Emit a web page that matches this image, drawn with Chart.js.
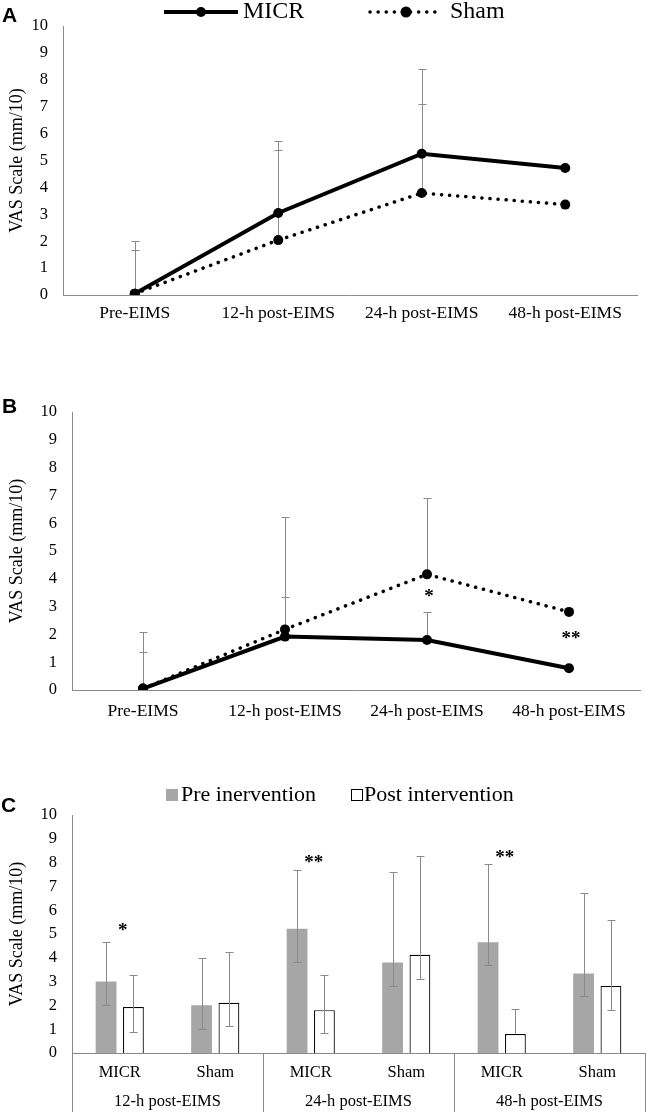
<!DOCTYPE html>
<html>
<head>
<meta charset="utf-8">
<script src="https://cdn.jsdelivr.net/npm/chart.js@4.4.1/dist/chart.umd.min.js"></script>
<style>
  body { margin: 0; background: #fff; width: 646px; height: 1115px; position: relative; overflow: hidden; }
  .panel { position: absolute; left: 0; }
  .tag { position: absolute; font: bold 21px 'Liberation Sans', Arial, sans-serif; line-height: 1; color: #000; }
</style>
</head>
<body>
<div class="panel" style="top:0px"><canvas id="chartA" width="646" height="335"></canvas></div>
<div class="panel" style="top:360px"><canvas id="chartB" width="646" height="370"></canvas></div>
<div class="panel" style="top:740px"><canvas id="chartC" width="646" height="375"></canvas></div>
<div class="tag" style="left:2px;top:4px">A</div>
<div class="tag" style="left:2px;top:395px">B</div>
<div class="tag" style="left:1px;top:794px">C</div>
<script>
// time points (panels A and B)
const timeLabels = ['Pre-EIMS', '12-h post-EIMS', '24-h post-EIMS', '48-h post-EIMS'];
const yTitle = 'VAS Scale (mm/10)';

// panel A
const micrA = [0.05, 3.05, 5.25, 4.72];
const shamA = [0.05, 2.04, 3.79, 3.36];
const micrAHigh = [2.0, 5.74, 8.42, null];
const shamAHigh = [1.67, 5.4, 7.1, null];

// panel B
const micrB = [0.05, 1.92, 1.8, 0.78];
const shamB = [0.05, 2.18, 4.16, 2.81];
const micrBHigh = [1.38, 3.33, 2.81, null];
const shamBHigh = [2.07, 6.23, 6.91, null];
const starTextB = ['*', '**'];
const starIndexB = [2, 3];
const starValueB = [3.49, 1.98];

// panel C
const groupLabels = ['12-h post-EIMS', '24-h post-EIMS', '48-h post-EIMS'];
const subLabels = ['MICR', 'Sham', 'MICR', 'Sham', 'MICR', 'Sham'];
const preC = [3.0, 2.01, 5.22, 3.8, 4.65, 3.34];
const postC = [1.93, 2.11, 1.8, 4.13, 0.8, 2.82];
const preCHigh = [4.65, 4.01, 7.68, 7.6, 7.93, 6.72];
const preCLow = [2.01, 1.01, 3.83, 2.82, 3.7, 2.39];
const postCHigh = [3.28, 4.23, 3.28, 8.27, 1.86, 5.6];
const postCLow = [0.89, 1.13, 0.82, 3.13, null, 1.8];
const starTextC = ['*', '**', '**'];
const starIndexC = [0, 2, 4];
const starValueC = [5.28, 8.15, 8.37];

const AXIS = '#8a8a8a';
const SERIF = "'Liberation Serif', 'Times New Roman', serif";
Chart.defaults.font.family = SERIF;
Chart.defaults.color = '#000';

function paintErrors(chart, o) {
  const ctx = chart.ctx, y = chart.scales.y, cap = 4;
  ctx.save();
  ctx.strokeStyle = o.color || AXIS;
  ctx.lineWidth = 1;
  chart.data.datasets.forEach((ds, d) => {
    const meta = chart.getDatasetMeta(d);
    meta.data.forEach((el, i) => {
      const x = Math.round(el.x) + 0.5;
      [ds.errHigh, ds.errLow].forEach(arr => {
        if (!arr || arr[i] == null) return;
        const end = Math.round(y.getPixelForValue(arr[i])) + 0.5;
        ctx.beginPath();
        ctx.moveTo(x, el.y);
        ctx.lineTo(x, end);
        ctx.moveTo(x - cap, end);
        ctx.lineTo(x + cap, end);
        ctx.stroke();
      });
    });
  });
  ctx.restore();
}

const errorBars = {
  id: 'errorBars',
  beforeDatasetsDraw(chart, args, o) { if (!o.front) paintErrors(chart, o); },
  afterDatasetsDraw(chart, args, o) { if (o.front) paintErrors(chart, o); }
};

const stars = {
  id: 'stars',
  afterDatasetsDraw(chart, args, o) {
    if (!o.text) return;
    const ctx = chart.ctx, x = chart.scales.x, y = chart.scales.y;
    ctx.save();
    ctx.font = 'bold ' + o.size + 'px ' + SERIF;
    ctx.textAlign = 'center';
    ctx.textBaseline = 'alphabetic';
    ctx.fillStyle = '#000';
    o.text.forEach((t, k) => {
      ctx.fillText(t, x.getPixelForValue(o.index[k]) + (o.dx || 0), y.getPixelForValue(o.value[k]) + o.size * 0.47);
    });
    ctx.restore();
  }
};

// legend drawn above the plot, styled like the original figure
const drawnLegend = {
  id: 'drawnLegend',
  afterDraw(chart, args, o) {
    if (!o.items) return;
    const ctx = chart.ctx;
    ctx.save();
    o.items.forEach((it, k) => {
      const ds = chart.data.datasets[k];
      if (it.kind === 'line') {
        ctx.strokeStyle = ds.borderColor;
        ctx.lineWidth = ds.borderWidth;
        ctx.lineCap = ds.borderCapStyle || 'butt';
        ctx.setLineDash(ds.borderDash || []);
        ctx.beginPath();
        ctx.moveTo(it.x, o.y);
        ctx.lineTo(it.x + it.w, o.y);
        ctx.stroke();
        ctx.setLineDash([]);
        ctx.fillStyle = ds.pointBackgroundColor;
        ctx.beginPath();
        ctx.arc(it.x + it.w / 2, o.y, it.r, 0, Math.PI * 2);
        ctx.fill();
      } else {
        ctx.fillStyle = ds.backgroundColor;
        ctx.fillRect(it.x, o.y - it.w / 2, it.w, it.w);
        if (ds.borderWidth) {
          ctx.strokeStyle = ds.borderColor;
          ctx.lineWidth = 1;
          ctx.strokeRect(it.x + 0.5, o.y - it.w / 2 + 0.5, it.w - 1, it.w - 1);
        }
      }
      ctx.fillStyle = '#000';
      ctx.font = o.size + 'px ' + SERIF;
      ctx.textBaseline = 'middle';
      ctx.fillText(ds.label, it.textX, o.y);
    });
    ctx.restore();
  }
};

const groupDividers = {
  id: 'groupDividers',
  afterDraw(chart, args, o) {
    if (!o.show) return;
    const x = chart.scales.x, ctx = chart.ctx;
    const per = subLabels.length / groupLabels.length;
    ctx.save();
    ctx.strokeStyle = AXIS;
    ctx.lineWidth = 1;
    for (let g = 0; g <= groupLabels.length; g++) {
      const px = Math.round(x.getPixelForValue(g * per - 0.5)) + 0.5;
      ctx.beginPath();
      ctx.moveTo(px, chart.chartArea.bottom);
      ctx.lineTo(px, chart.height - 3);
      ctx.stroke();
    }
    ctx.restore();
  }
};

function yAxis(width) {
  return {
    min: 0, max: 10,
    ticks: { stepSize: 1, padding: 15, font: { size: 16.5 } },
    grid: { display: false, drawTicks: false },
    border: { display: true, color: AXIS, width: 1 },
    title: { display: true, text: yTitle, font: { size: 18 }, padding: { top: 6, bottom: 0 } },
    afterFit: s => { s.width = width; }
  };
}

function xAxis(height, pad, size) {
  return {
    type: 'category', offset: true,
    grid: { display: false, drawTicks: false },
    border: { display: true, color: AXIS, width: 1 },
    ticks: { padding: pad, font: { size: size }, maxRotation: 0, autoSkip: false },
    afterFit: s => { s.height = height; }
  };
}

function lineSets(micr, micrHigh, sham, shamHigh) {
  return [
    { label: 'MICR', data: micr, errHigh: micrHigh, borderColor: '#000', borderWidth: 4,
      pointRadius: 5, pointBackgroundColor: '#000', pointBorderWidth: 0, tension: 0 },
    { label: 'Sham', data: sham, errHigh: shamHigh, borderColor: '#000', borderWidth: 3.5,
      borderDash: [0.1, 8], borderCapStyle: 'round',
      pointRadius: 5, pointBackgroundColor: '#000', pointBorderWidth: 0, tension: 0 }
  ];
}

new Chart(document.getElementById('chartA'), {
  type: 'line',
  data: { labels: timeLabels, datasets: lineSets(micrA, micrAHigh, shamA, shamAHigh) },
  options: {
    responsive: false, devicePixelRatio: 1, animation: false,
    layout: { padding: { top: 26, right: 9, left: 0, bottom: 0 } },
    scales: { x: xAxis(40, 8, 17.5), y: yAxis(63) },
    plugins: {
      legend: { display: false }, tooltip: { enabled: false },
      errorBars: { front: false },
      drawnLegend: { y: 12, size: 24, items: [
        { kind: 'line', x: 164, w: 74, r: 5, textX: 243 },
        { kind: 'line', x: 370, w: 72, r: 5.5, textX: 450 }
      ] }
    }
  },
  plugins: [errorBars, drawnLegend]
});

new Chart(document.getElementById('chartB'), {
  type: 'line',
  data: { labels: timeLabels, datasets: lineSets(micrB, micrBHigh, shamB, shamBHigh) },
  options: {
    responsive: false, devicePixelRatio: 1, animation: false,
    layout: { padding: { top: 52, right: 6, left: 0, bottom: 0 } },
    scales: { x: xAxis(40, 11, 17.5), y: yAxis(72) },
    plugins: {
      legend: { display: false }, tooltip: { enabled: false },
      errorBars: { front: false },
      stars: { text: starTextB, index: starIndexB, value: starValueB, size: 19, dx: 2 }
    }
  },
  plugins: [errorBars, stars]
});

new Chart(document.getElementById('chartC'), {
  type: 'bar',
  data: {
    labels: subLabels,
    datasets: [
      { label: 'Pre inervention', data: preC, errHigh: preCHigh, errLow: preCLow,
        backgroundColor: '#a6a6a6', borderWidth: 0 },
      { label: 'Post intervention', data: postC, errHigh: postCHigh, errLow: postCLow,
        backgroundColor: '#ffffff', borderColor: '#000', borderWidth: 1.2 }
    ]
  },
  options: {
    responsive: false, devicePixelRatio: 1, animation: false,
    layout: { padding: { top: 75, right: 1, left: 0, bottom: 0 } },
    datasets: { bar: { categoryPercentage: 0.573, barPercentage: 0.76 } },
    scales: {
      x: Object.assign(xAxis(30, 10, 16.5), { weight: 0 }),
      x2: {
        type: 'category', labels: groupLabels, position: 'bottom', weight: 1, offset: true,
        grid: { display: false, drawTicks: false }, border: { display: false },
        ticks: { padding: 9, font: { size: 16.5 }, maxRotation: 0, autoSkip: false },
        afterFit: s => { s.height = 32; }
      },
      y: yAxis(72)
    },
    plugins: {
      legend: { display: false }, tooltip: { enabled: false },
      errorBars: { front: true },
      stars: { text: starTextC, index: starIndexC, value: starValueC, size: 19, dx: 3 },
      groupDividers: { show: true },
      drawnLegend: { y: 55, size: 22, items: [
        { kind: 'box', x: 166, w: 12, textX: 181 },
        { kind: 'box', x: 351, w: 12, textX: 364 }
      ] }
    }
  },
  plugins: [errorBars, stars, drawnLegend, groupDividers]
});
</script>
</body>
</html>
